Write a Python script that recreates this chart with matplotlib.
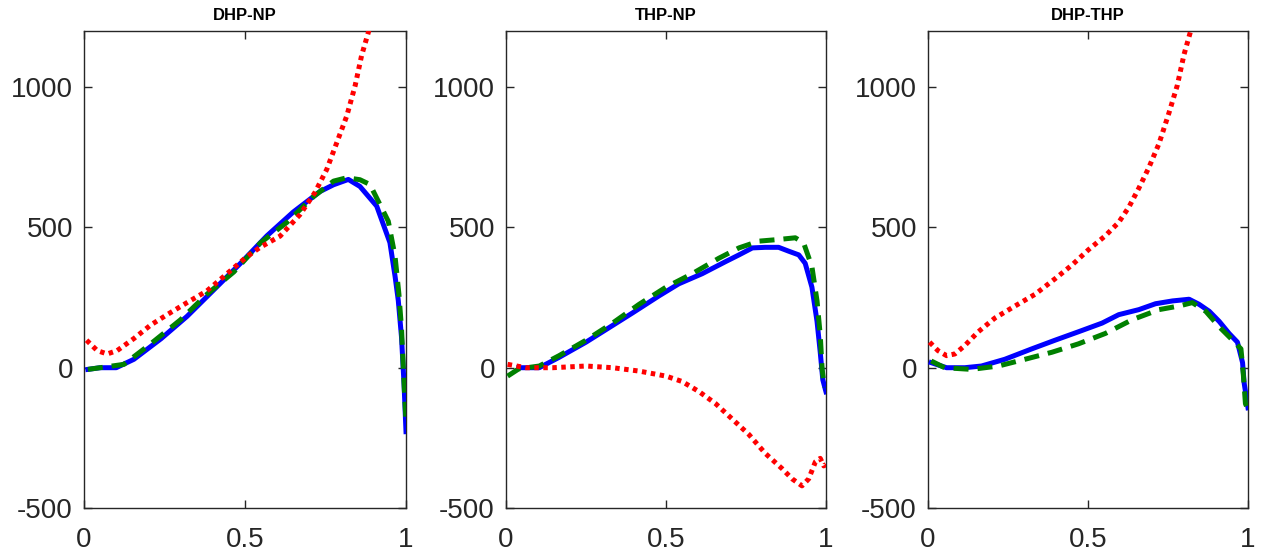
import matplotlib as mpl
import matplotlib.pyplot as plt


TITLES = ["DHP-NP", "THP-NP", "DHP-THP"]

# DHP-NP
P1_BLUE_X = [0.012, 0.05, 0.10, 0.155, 0.24, 0.32, 0.40, 0.486, 0.568, 0.65, 0.733, 0.775, 0.821, 0.857, 0.909, 0.95, 0.966, 0.976, 0.986, 0.994, 1.0]
P1_BLUE_Y = [-6, 0, 0, 30, 104, 183, 274, 372, 470, 555, 628, 652, 671, 646, 576, 446, 326, 240, 110, -60, -228]
P1_GREEN_X = [0.012, 0.05, 0.124, 0.207, 0.30, 0.382, 0.465, 0.548, 0.63, 0.713, 0.775, 0.816, 0.857, 0.888, 0.945, 0.966, 0.978, 0.986, 0.991, 0.996, 1.0]
P1_GREEN_Y = [-6, 0, 12, 85, 171, 262, 341, 445, 518, 610, 665, 677, 670, 653, 522, 397, 262, 140, 18, -104, -190]
P1_RED_X = [0.008, 0.041, 0.072, 0.103, 0.155, 0.207, 0.258, 0.32, 0.382, 0.444, 0.506, 0.547, 0.609, 0.671, 0.717, 0.754, 0.785, 0.816, 0.842, 0.862, 0.883, 0.90]
P1_RED_Y = [98, 61, 49, 61, 104, 152, 189, 232, 274, 335, 396, 429, 469, 546, 624, 707, 802, 897, 1005, 1112, 1195, 1270]

# THP-NP
P2_BLUE_X = [0.04, 0.104, 0.166, 0.25, 0.31, 0.395, 0.478, 0.54, 0.613, 0.686, 0.728, 0.77, 0.81, 0.852, 0.884, 0.915, 0.935, 0.956, 0.972, 0.982, 0.99, 1.0]
P2_BLUE_Y = [0, 0, 37, 91, 134, 195, 256, 299, 335, 378, 402, 427, 429, 429, 415, 402, 372, 287, 165, 55, -43, -86]
P2_GREEN_X = [0.005, 0.04, 0.104, 0.166, 0.25, 0.333, 0.416, 0.50, 0.582, 0.665, 0.728, 0.79, 0.852, 0.904, 0.93, 0.956, 0.972, 0.982, 0.988, 0.995]
P2_GREEN_Y = [-30, -4, 6, 43, 98, 159, 226, 287, 335, 390, 427, 451, 457, 463, 445, 360, 238, 116, -6, -70]
P2_RED_X = [0.005, 0.062, 0.146, 0.25, 0.333, 0.416, 0.50, 0.55, 0.603, 0.655, 0.707, 0.759, 0.81, 0.863, 0.894, 0.925, 0.946, 0.967, 0.982, 0.993, 1.0]
P2_RED_Y = [12, 0, 0, 6, 0, -12, -30, -49, -85, -128, -183, -238, -305, -360, -396, -421, -396, -335, -323, -350, -345]

# DHP-THP
P3_BLUE_X = [0.01, 0.058, 0.115, 0.167, 0.24, 0.324, 0.397, 0.47, 0.544, 0.596, 0.659, 0.711, 0.764, 0.816, 0.847, 0.879, 0.91, 0.941, 0.967, 0.983, 0.988, 1.0]
P3_BLUE_Y = [18, 0, 0, 6, 30, 67, 98, 128, 159, 189, 207, 228, 238, 244, 226, 201, 165, 122, 91, 18, -55, -143]
P3_GREEN_X = [0.01, 0.052, 0.136, 0.22, 0.303, 0.387, 0.47, 0.554, 0.638, 0.722, 0.785, 0.826, 0.868, 0.91, 0.952, 0.978, 0.985, 0.992, 1.0]
P3_GREEN_Y = [24, 0, -6, 6, 30, 55, 85, 122, 171, 207, 220, 232, 201, 146, 98, 67, -18, -128, -150]
P3_RED_X = [0.005, 0.031, 0.058, 0.084, 0.115, 0.157, 0.209, 0.272, 0.335, 0.397, 0.45, 0.502, 0.554, 0.596, 0.628, 0.659, 0.69, 0.722, 0.753, 0.779, 0.80, 0.821, 0.835]
P3_RED_Y = [91, 61, 43, 49, 79, 128, 177, 220, 262, 317, 366, 421, 470, 518, 573, 640, 713, 799, 908, 1006, 1116, 1201, 1300]

PANELS = [
    (P1_BLUE_X, P1_BLUE_Y, P1_GREEN_X, P1_GREEN_Y, P1_RED_X, P1_RED_Y),
    (P2_BLUE_X, P2_BLUE_Y, P2_GREEN_X, P2_GREEN_Y, P2_RED_X, P2_RED_Y),
    (P3_BLUE_X, P3_BLUE_Y, P3_GREEN_X, P3_GREEN_Y, P3_RED_X, P3_RED_Y),
]

X_TICKS = [0, 0.5, 1]
X_TICK_LABELS = ["0", "0.5", "1"]
Y_TICKS = [-500, 0, 500, 1000]
Y_TICK_LABELS = ["-500", "0", "500", "1000"]


def main():
    mpl.rcParams.update({
        "font.family": ["Liberation Sans", "DejaVu Sans"],
        "axes.linewidth": 1.0,
    })
    fig = plt.figure(figsize=(12.61, 5.57), dpi=100)
    fig.patch.set_facecolor("white")

    lefts = [84 / 1261, 506 / 1261, 928 / 1261]
    widths = [322 / 1261, 320 / 1261, 320 / 1261]
    bottom = 49 / 557
    height = 477 / 557
    dark = "#262626"

    for i, (bx, by, gx, gy, rx, ry) in enumerate(PANELS):
        ax = fig.add_axes([lefts[i], bottom, widths[i], height])
        ax.plot(bx, by, color="#0000ff", lw=3.6, solid_joinstyle="round", zorder=3)
        ax.plot(gx, gy, color="#008000", lw=3.6, linestyle=(0, (3.0, 1.8)),
                dash_capstyle="butt", zorder=4)
        ax.plot(rx, ry, color="#ff0000", lw=3.6, linestyle=(0, (0.9, 0.9)),
                dash_capstyle="butt", zorder=5)
        ax.set_xlim(0, 1)
        ax.set_ylim(-500, 1200)
        ax.set_xticks(X_TICKS)
        ax.set_xticklabels(X_TICK_LABELS)
        ax.set_yticks(Y_TICKS)
        ax.set_yticklabels(Y_TICK_LABELS)
        ax.tick_params(axis="both", direction="in", length=6, width=1.0,
                       colors=dark, labelsize=20, top=True, right=True)
        ax.tick_params(axis="x", pad=14)
        ax.tick_params(axis="y", pad=8)
        for sp in ax.spines.values():
            sp.set_color(dark)
        ax.set_title(TITLES[i], fontsize=12, fontweight="bold", pad=8)

    fig.savefig("out.png", dpi=100)
    plt.close(fig)


if __name__ == "__main__":
    main()
